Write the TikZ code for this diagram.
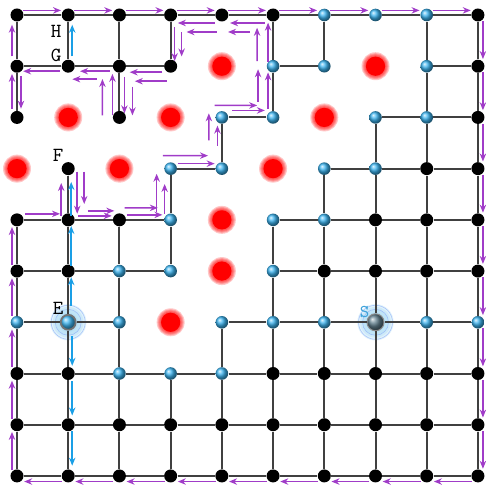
\documentclass[tikz,border=0pt]{standalone}
\usepackage{tikz}
\usetikzlibrary{arrows.meta, calc, backgrounds}
\definecolor{mPurple}{HTML}{A03CC8}
\definecolor{mBlue}{HTML}{1A9FE6}
\definecolor{mBall}{HTML}{3CB4F0}
\definecolor{mSlate}{HTML}{62808E}
\definecolor{mGlow}{HTML}{9FD6F2}
\definecolor{mLabel}{HTML}{3FA3DB}
% arrow beside the segment a--b, from fraction f1 to f2, shifted to its left
\newcommand{\trail}[6][pflow]{%
  \draw[#1] ($(#2)!#4!(#3) + (#2)!#6!90:(#3) - (#2)$)
         -- ($(#2)!#5!(#3) + (#2)!#6!90:(#3) - (#2)$);}

\begin{document}
\begin{tikzpicture}[x=0.9cm, y=-0.9cm,
    bnode/.style={circle, fill=black, inner sep=0pt, minimum size=6.5pt},
    lnode/.style={circle, shading=ball, ball color=mBall, inner sep=0pt, minimum size=6.3pt},
    snode/.style={circle, shading=ball, ball color=mSlate, inner sep=0pt, minimum size=8.5pt,
                  draw=black!45, line width=0.5pt},
    link/.style={line width=1pt, black!75},
    pflow/.style={draw=mPurple, line width=0.8pt, -{Stealth[length=4pt, width=3.2pt]}},
    bflow/.style={pflow, draw=mBlue},
    lbl/.style={inner sep=0pt, font=\ttfamily\fontsize{10}{12}\selectfont}]
  \useasboundingbox (-8.5pt,7.5pt) rectangle (234pt,-237.5pt);

  % black nodes
  \foreach \r/\cs in {0/{0,1,2,3,4,5,9}, 1/{0,1,2,3,9}, 2/{0,2,9}, 3/{1,8,9},
                      4/{0,1,2,7,8,9}, 5/{0,1,6,7,8,9}, 7/{0,1,5,6,7,8,9},
                      8/{0,...,9}, 9/{0,...,9}}
    {\foreach \c in \cs {\node[bnode] (v\r\c) at (\c,\r) {};}}
  % blue nodes
  \foreach \r/\cs in {0/{6,7,8}, 1/{5,6,8}, 2/{4,5,7,8}, 3/{3,4,6,7}, 4/{3,5,6},
                      5/{2,3,5}, 6/{0,2,4,5,6,8,9}, 7/{2,3,4}}
    {\foreach \c in \cs {\node[lnode] (v\r\c) at (\c,\r) {};}}
  \node[lnode, minimum size=7.5pt, draw=black!55, line width=0.9pt] (v61) at (1,6) {};
  \node[snode] (v67) at (7,6) {};

  % grid lines
  \foreach \r/\cs in {0/{0,...,8}, 1/{0,1,2,5,8}, 2/{4,7,8}, 3/{3,6,7,8},
                      4/{0,1,2,5,6,7,8}, 5/{0,1,2,5,6,7,8}, 6/{0,1,4,5,6,7,8},
                      7/{0,...,8}, 8/{0,...,8}, 9/{0,...,8}}
    {\foreach \c [evaluate=\c as \d using int(\c+1)] in \cs {\draw[link] (v\r\c) -- (v\r\d);}}
  \foreach \c/\rs in {0/{0,1,4,5,6,7,8}, 1/{0,3,4,5,6,7,8}, 2/{0,1,4,5,6,7,8},
                      3/{0,3,4,7,8}, 4/{2,6,7,8}, 5/{0,1,4,5,6,7,8},
                      6/{0,3,4,5,6,7,8}, 7/{2,3,4,5,6,7,8}, 8/{0,...,8}, 9/{0,...,8}}
    {\foreach \r [evaluate=\r as \s using int(\r+1)] in \rs {\draw[link] (v\r\c) -- (v\s\c);}}

  \begin{pgfonlayer}{background}
    % hot spots
    \foreach \c/\r in {4/1, 7/1, 1/2, 3/2, 6/2, 0/3, 2/3, 5/3, 4/4, 4/5, 3/6} {
      \foreach \k in {1,...,6} {\fill[red, opacity=0.22] (\c,\r) circle[radius=4pt+\k*0.5pt];}
      \fill[red] (\c,\r) circle[radius=4.8pt];
    }
    % glow round E and S
    \foreach \n in {v61, v67} {
      \foreach \k in {1,...,4} {\fill[mGlow, opacity=0.3] (\n) circle[radius=3.5pt+\k*1.4pt];}
      \draw[mGlow!70!blue, line width=0.3pt, opacity=0.5] (\n) circle[radius=6.5pt] (\n) circle[radius=8.5pt];
    }
  \end{pgfonlayer}

  \node[lbl] at ([shift={(-6pt,-8pt)}]v01) {H};
  \node[lbl] at ([shift={(-6pt,5.5pt)}]v11) {G};
  \node[lbl] at ([shift={(-5pt,6.5pt)}]v31) {F};
  \node[lbl] at ([shift={(-5pt,7pt)}]v61) {E};
  \node[lbl, text=mLabel, font=\ttfamily\fontsize{9}{11}\selectfont] at ([shift={(-5.5pt,5pt)}]v67) {S};

  % outer loop
  \foreach \c [evaluate=\c as \d using int(\c+1)] in {0,...,8} {
    \trail{v0\c}{v0\d}{0.12}{0.86}{2.3pt}
    \trail{v\c9}{v\d9}{0.12}{0.86}{2.5pt}
    \trail{v9\d}{v9\c}{0.12}{0.86}{2.8pt}
  }
  \foreach \r [evaluate=\r as \s using int(\r+1)] in {4,...,8} {\trail{v\s0}{v\r0}{0.12}{0.86}{2.5pt}}
  \trail{v10}{v00}{0.19}{0.81}{2.5pt}
  \trail{v20}{v10}{0.17}{0.85}{2.5pt}
  \trail{v10}{v20}{0.19}{0.83}{2pt}
  \trail{v40}{v41}{0.16}{0.84}{3pt}
  % round the blocked cells
  \trail{v41}{v31}{0.08}{0.72}{3.5pt}
  \trail{v31}{v41}{0.06}{0.88}{4.5pt}
  \trail{v31}{v41}{0.06}{0.69}{8pt}
  \trail{v41}{v42}{0.38}{0.9}{4.5pt}
  \trail{v41}{v42}{0.19}{0.85}{2pt}
  \trail{v42}{v43}{0.1}{0.75}{6pt}
  \trail{v42}{v43}{0.14}{0.84}{2.5pt}
  \trail{v43}{v33}{0.16}{0.9}{7pt}
  \trail{v43}{v33}{0.12}{0.7}{3pt}
  \trail{v33}{v34}{-0.15}{0.73}{6.5pt}
  \trail{v33}{v34}{0.14}{0.86}{2.5pt}
  \trail{v34}{v24}{0.55}{1.08}{6.5pt}
  \trail{v34}{v24}{0.45}{0.84}{2.2pt}
  \trail{v24}{v25}{-0.14}{0.69}{6pt}
  \trail{v24}{v25}{0.2}{0.84}{3.5pt}
  \trail{v25}{v15}{0.31}{0.94}{7.5pt}
  \trail{v25}{v15}{0.17}{0.88}{2.5pt}
  \trail{v15}{v05}{0.1}{0.75}{8pt}
  \trail{v15}{v05}{0.08}{0.85}{2.5pt}
  \trail{v05}{v04}{0.16}{0.84}{4pt}
  \trail{v05}{v04}{0.45}{0.88}{8.5pt}
  \trail{v04}{v03}{0.14}{0.86}{4pt}
  \trail{v04}{v03}{0.1}{0.69}{8.5pt}
  \trail{v03}{v13}{0.23}{0.9}{2pt}
  \trail{v03}{v13}{0.33}{0.81}{5.5pt}
  \trail{v13}{v12}{0.16}{0.8}{3pt}
  \trail{v13}{v12}{0.08}{0.7}{7.5pt}
  \trail{v12}{v22}{0.21}{0.92}{2.5pt}
  \trail{v12}{v22}{0.4}{0.96}{6.5pt}
  \trail{v22}{v12}{0.04}{0.75}{8.5pt}
  \trail{v22}{v12}{0.04}{0.85}{3.5pt}
  \trail{v12}{v11}{0.19}{0.77}{2.5pt}
  \trail{v12}{v11}{0.44}{0.92}{6.5pt}
  \trail{v11}{v10}{0.16}{0.88}{2.5pt}
  % blue run along column E
  \trail[bflow]{v11}{v01}{0.19}{0.81}{-2pt}
  \trail[bflow]{v41}{v31}{0.08}{0.74}{-1.5pt}
  \trail[bflow]{v51}{v41}{0.1}{0.88}{-1.5pt}
  \trail[bflow]{v61}{v51}{0.31}{0.88}{-1.5pt}
  \trail[bflow]{v61}{v71}{0.27}{0.85}{2pt}
  \trail[bflow]{v71}{v81}{0.15}{0.82}{2pt}
  \trail[bflow]{v81}{v91}{0.13}{0.8}{2pt}
\end{tikzpicture}
\end{document}
